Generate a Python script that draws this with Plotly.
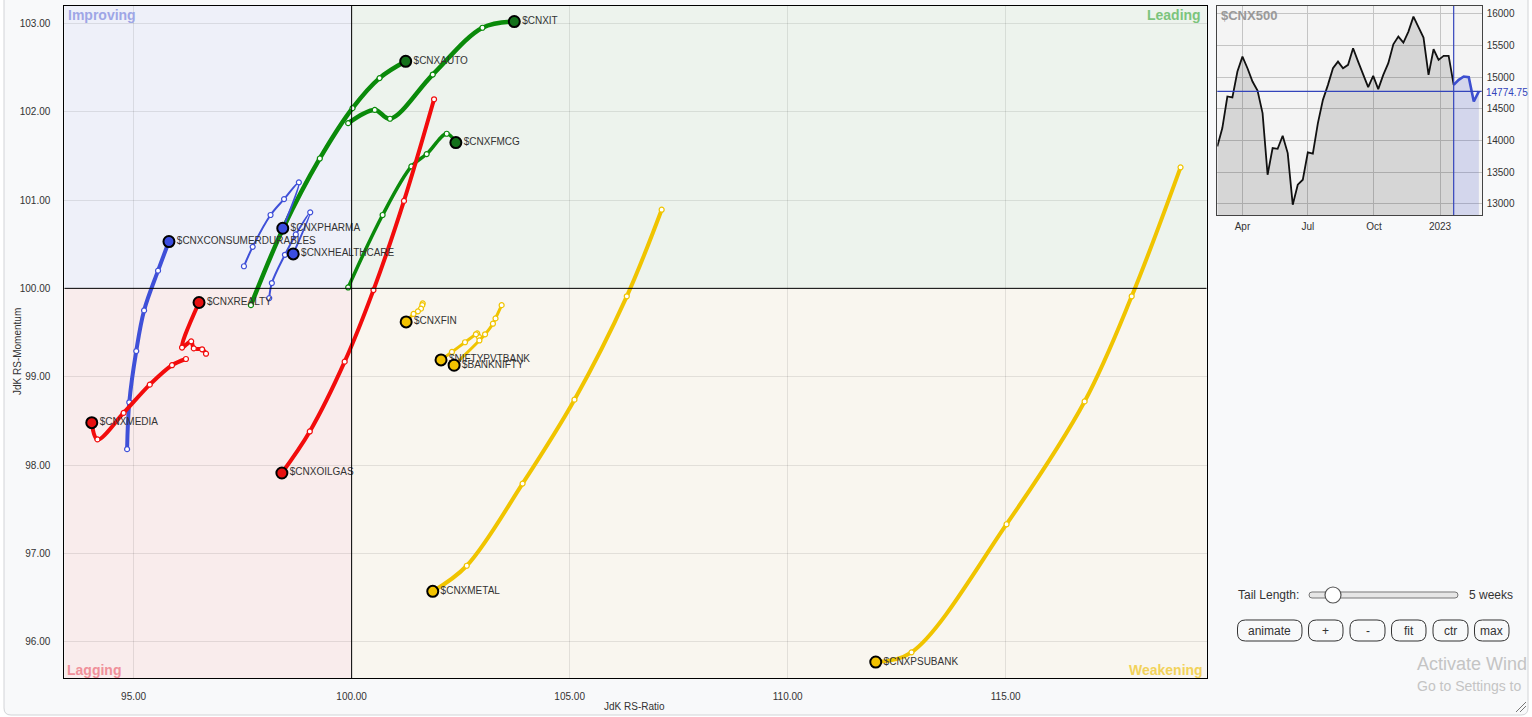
import plotly.graph_objects as go
import pandas as pd

W, H = 1532, 717

# ---------------- RRG data (JdK RS-Ratio, JdK RS-Momentum), tail -> head ----------------
it_x = [99.92, 100.53, 100.88, 101.86, 103.00, 103.73]
it_y = [101.87, 102.02, 101.92, 102.42, 102.95, 103.02]
auto_x = [97.69, 98.44, 99.27, 100.02, 100.64, 101.24]
auto_y = [99.81, 100.69, 101.47, 102.04, 102.38, 102.57]
fmcg_x = [99.92, 100.71, 101.37, 101.72, 102.18, 102.39]
fmcg_y = [100.01, 100.83, 101.38, 101.52, 101.75, 101.65]
pharma_x = [97.53, 97.73, 98.14, 98.45, 98.79, 98.42]
pharma_y = [100.25, 100.47, 100.83, 101.01, 101.20, 100.68]
health_x = [98.11, 98.17, 98.47, 98.72, 99.05, 98.66]
health_y = [99.89, 100.06, 100.38, 100.61, 100.86, 100.39]
cdur_x = [94.85, 94.90, 95.06, 95.24, 95.56, 95.81]
cdur_y = [98.18, 98.71, 99.29, 99.75, 100.20, 100.53]
realty_x = [96.66, 96.57, 96.38, 96.32, 96.11, 96.50]
realty_y = [99.26, 99.31, 99.32, 99.40, 99.33, 99.84]
media_x = [96.20, 95.88, 95.37, 94.77, 94.17, 94.04]
media_y = [99.20, 99.13, 98.91, 98.59, 98.29, 98.48]
oil_x = [101.89, 101.20, 100.50, 99.84, 99.04, 98.40]
oil_y = [102.14, 100.99, 99.98, 99.17, 98.38, 97.91]
fin_x = [101.63, 101.62, 101.59, 101.52, 101.42, 101.25]
fin_y = [99.83, 99.81, 99.77, 99.74, 99.71, 99.62]
pvt_x = [102.92, 102.88, 102.85, 102.60, 102.30, 102.05]
pvt_y = [99.45, 99.49, 99.48, 99.39, 99.28, 99.19]
bank_x = [103.44, 103.30, 103.24, 103.06, 102.93, 102.35]
bank_y = [99.81, 99.66, 99.60, 99.48, 99.41, 99.13]
metal_x = [107.11, 106.31, 105.11, 103.92, 102.64, 101.86]
metal_y = [100.89, 99.91, 98.74, 97.79, 96.86, 96.57]
psu_x = [119.01, 117.89, 116.81, 115.02, 112.84, 112.02]
psu_y = [101.37, 99.91, 98.72, 97.33, 95.88, 95.77]

series_names = ["$CNXIT", "$CNXAUTO", "$CNXFMCG", "$CNXPHARMA", "$CNXHEALTHCARE",
                "$CNXCONSUMERDURABLES", "$CNXREALTY", "$CNXMEDIA", "$CNXOILGAS",
                "$CNXFIN", "$NIFTYPVTBANK", "$BANKNIFTY", "$CNXMETAL", "$CNXPSUBANK"]
series_x = [it_x, auto_x, fmcg_x, pharma_x, health_x, cdur_x, realty_x, media_x, oil_x,
            fin_x, pvt_x, bank_x, metal_x, psu_x]
series_y = [it_y, auto_y, fmcg_y, pharma_y, health_y, cdur_y, realty_y, media_y, oil_y,
            fin_y, pvt_y, bank_y, metal_y, psu_y]

# ---------------- $CNX500 weekly close (inset) ----------------
cnx500_values = [13905, 14195, 14695, 14680, 15090, 15326, 15142, 14932, 14789, 14432,
                 13458, 13879, 13868, 14074, 13800, 12984, 13300, 13379, 13811, 13790,
                 14274, 14642, 14879, 15142, 15247, 15142, 15195, 15458, 15247, 15037,
                 14842, 15021, 14811, 15037, 15221, 15521, 15642, 15547, 15721, 15958,
                 15800, 15626, 15037, 15442, 15274, 15337, 15337, 14879, 14958, 15011,
                 15000, 14616, 14774.75]
cnx500_dates = pd.date_range("2022-02-25", periods=len(cnx500_values), freq="7D")
cnx500_ticks = [13000, 13500, 14000, 14500, 15000, 15500, 16000]
tail_weeks = 5
last_value = 14774.75

# ---------------- styles ----------------
GREEN, GREEN_H = "#0a8a0a", "#13701a"
RED, RED_H = "#f20c0c", "#e81010"
BLUE, BLUE_H = "#3f50d8", "#3b4de0"
YEL, YEL_H = "#f0c400", "#f2c200"
style = {
    "$CNXIT": (GREEN, GREEN_H, 4.5), "$CNXAUTO": (GREEN, GREEN_H, 4.5),
    "$CNXFMCG": (GREEN, GREEN_H, 3.5), "$CNXPHARMA": (BLUE, BLUE_H, 2),
    "$CNXHEALTHCARE": (BLUE, BLUE_H, 2), "$CNXCONSUMERDURABLES": (BLUE, BLUE_H, 4),
    "$CNXREALTY": (RED, RED_H, 4), "$CNXMEDIA": (RED, RED_H, 4),
    "$CNXOILGAS": (RED, RED_H, 4), "$CNXFIN": (YEL, YEL_H, 3),
    "$NIFTYPVTBANK": (YEL, YEL_H, 3), "$BANKNIFTY": (YEL, YEL_H, 3),
    "$CNXMETAL": (YEL, YEL_H, 4), "$CNXPSUBANK": (YEL, YEL_H, 4),
}

XR = [93.41, 119.61]
YR = [95.586, 103.196]


def px(x):
    return x / W


def py(y):
    return 1 - y / H


def rrect(x0, y0, x1, y1, r):
    P = lambda x, y: f"{px(x):.6f},{py(y):.6f}"
    return (f"M {P(x0 + r, y0)} L {P(x1 - r, y0)} Q {P(x1, y0)} {P(x1, y0 + r)} "
            f"L {P(x1, y1 - r)} Q {P(x1, y1)} {P(x1 - r, y1)} L {P(x0 + r, y1)} "
            f"Q {P(x0, y1)} {P(x0, y1 - r)} L {P(x0, y0 + r)} Q {P(x0, y0)} {P(x0 + r, y0)} Z")


fig = go.Figure()

# tails
for name, xs, ys in zip(series_names, series_x, series_y):
    col, _, lw = style[name]
    fig.add_trace(go.Scatter(
        x=xs, y=ys, mode="lines", line=dict(color=col, width=lw, shape="spline", smoothing=1.0),
        hoverinfo="skip", xaxis="x", yaxis="y"))
    fig.add_trace(go.Scatter(
        x=xs[:-1], y=ys[:-1], mode="markers",
        marker=dict(size=5, color="white", line=dict(color=col, width=1.2)),
        hoverinfo="skip", xaxis="x", yaxis="y"))
# heads
for name, xs, ys in zip(series_names, series_x, series_y):
    col, hcol, lw = style[name]
    fig.add_trace(go.Scatter(
        x=[xs[-1]], y=[ys[-1]], mode="markers+text", text=[name], textposition="middle right",
        textfont=dict(family="Liberation Sans, Arial, sans-serif", size=10, color="#333"),
        marker=dict(size=11, color=hcol, line=dict(color="black", width=2)),
        xaxis="x", yaxis="y"))

# inset: $CNX500
split = len(cnx500_values) - 1 - tail_weeks
fig.add_trace(go.Scatter(
    x=cnx500_dates[:split + 1], y=cnx500_values[:split + 1], mode="lines",
    line=dict(color="#111", width=1.8), fill="tozeroy", fillcolor="rgba(0,0,0,0.12)",
    xaxis="x2", yaxis="y2", hoverinfo="skip"))
fig.add_trace(go.Scatter(
    x=cnx500_dates[split:], y=cnx500_values[split:], mode="lines",
    line=dict(color="#3d4fd0", width=2.6), fill="tozeroy", fillcolor="rgba(60,80,200,0.18)",
    xaxis="x2", yaxis="y2", hoverinfo="skip"))

shapes = []
# card
shapes.append(dict(type="path", path=rrect(4, -12, 1528, 715, 7), xref="paper", yref="paper",
                   fillcolor="#f8f9fa", line=dict(color="#d2d4d7", width=1), layer="below"))
# quadrants
quad = [
    (XR[0], 100, 100, YR[1], "#eef0f9"),
    (100, XR[1], 100, YR[1], "#edf3ed"),
    (XR[0], 100, YR[0], 100, "#f9ecec"),
    (100, XR[1], YR[0], 100, "#f9f6ef"),
]
for x0, x1, y0, y1, c in quad:
    shapes.append(dict(type="rect", xref="x", yref="y", x0=x0, x1=x1, y0=y0, y1=y1,
                       fillcolor=c, line=dict(width=0), layer="below"))
shapes.append(dict(type="line", xref="x", yref="y", x0=100, x1=100, y0=YR[0], y1=YR[1],
                   line=dict(color="black", width=1)))
shapes.append(dict(type="line", xref="x", yref="y", x0=XR[0], x1=XR[1], y0=100, y1=100,
                   line=dict(color="black", width=1)))
# inset background
inset_x = [px(1217.3), px(1481.7)]
inset_y = [py(215), py(6)]
shapes.append(dict(type="rect", xref="paper", yref="paper", x0=inset_x[0], x1=inset_x[1],
                   y0=inset_y[0], y1=inset_y[1], fillcolor="#f4f4f4", line=dict(width=0), layer="below"))
# inset current-value line and tail start line
shapes.append(dict(type="line", xref="x2 domain", yref="y2", x0=0, x1=1, y0=last_value, y1=last_value,
                   line=dict(color="#3344bb", width=1.2)))
shapes.append(dict(type="line", xref="x2", yref="y2 domain", x0=cnx500_dates[split], x1=cnx500_dates[split],
                   y0=0, y1=1, line=dict(color="#3344bb", width=1.2)))

# controls
shapes.append(dict(type="path", path=rrect(1309, 592, 1458, 598, 3), xref="paper", yref="paper",
                   fillcolor="#e6e6e6", line=dict(color="#777", width=1)))
shapes.append(dict(type="circle", xref="paper", yref="paper", x0=px(1325), x1=px(1341),
                   y0=py(603), y1=py(587), fillcolor="white", line=dict(color="#555", width=1.2)))
buttons = [("animate", 1237.5, 1302), ("+", 1308.5, 1343), ("-", 1350, 1385),
           ("fit", 1391.5, 1426), ("ctr", 1433, 1468), ("max", 1474.5, 1509)]
for lbl, bx0, bx1 in buttons:
    shapes.append(dict(type="path", path=rrect(bx0, 620, bx1, 641, 8), xref="paper", yref="paper",
                       fillcolor="rgba(0,0,0,0)", line=dict(color="#333", width=1)))
# resize grip
shapes.append(dict(type="line", xref="paper", yref="paper", x0=px(1516), y0=py(712), x1=px(1526), y1=py(702),
                   line=dict(color="#777", width=1)))
shapes.append(dict(type="line", xref="paper", yref="paper", x0=px(1520), y0=py(712), x1=px(1526), y1=py(706),
                   line=dict(color="#777", width=1)))

FONT = "Liberation Sans, Arial, sans-serif"
ann = []


def text(x, y, s, size=10, color="#333", xanchor="left", bold=False, angle=0, yanchor="middle"):
    ann.append(dict(x=px(x), y=py(y), xref="paper", yref="paper", text=f"<b>{s}</b>" if bold else s,
                    showarrow=False, xanchor=xanchor, yanchor=yanchor, textangle=angle,
                    font=dict(family=FONT, size=size, color=color)))


text(66, 15, "Improving", 14, "#9ea6e6", bold=True)
text(1203, 15, "Leading", 14, "#7cc47c", xanchor="right", bold=True)
text(65, 670, "Lagging", 14, "#f0909a", bold=True)
text(1205, 670, "Weakening", 14, "#f2d25a", xanchor="right", bold=True)
text(634, 706, "JdK RS-Ratio", 10, "#333", xanchor="center")
text(18, 352, "JdK RS-Momentum", 10, "#333", xanchor="center", angle=-90)
text(1219, 15, "$CNX500", 13, "#999", bold=True)
text(1484, 92, f"{last_value:.2f}", 10, "#3344bb")
text(1236, 595, "Tail Length:", 12, "#333")
text(1467, 595, f"{tail_weeks} weeks", 12, "#333")
for lbl, bx0, bx1 in buttons:
    text((bx0 + bx1) / 2, 631, lbl, 12, "#333", xanchor="center")
text(1415, 664, "Activate Wind", 18, "#c4c4c4")
text(1415, 686, "Go to Settings to", 14, "#c4c4c4")

fig.update_layout(
    width=W, height=H, margin=dict(l=0, r=0, t=0, b=0),
    paper_bgcolor="white", plot_bgcolor="rgba(0,0,0,0)", showlegend=False,
    shapes=shapes, annotations=ann,
    font=dict(family=FONT, size=10, color="#333"),
    xaxis=dict(domain=[px(64.3), px(1206.7)], range=XR, tickvals=[95, 100, 105, 110, 115],
               ticktext=["95.00", "100.00", "105.00", "110.00", "115.00"],
               showgrid=True, gridcolor="rgba(0,0,0,0.09)", zeroline=False,
               showline=True, linecolor="black", linewidth=1, mirror=True,
               ticks="outside", ticklen=9, tickcolor="rgba(0,0,0,0)",
               tickfont=dict(size=10, color="#333"), fixedrange=True),
    yaxis=dict(domain=[py(678.3), py(6)], range=YR, tickvals=[96, 97, 98, 99, 100, 101, 102, 103],
               ticktext=["96.00", "97.00", "98.00", "99.00", "100.00", "101.00", "102.00", "103.00"],
               showgrid=True, gridcolor="rgba(0,0,0,0.09)", zeroline=False,
               showline=True, linecolor="black", linewidth=1, mirror=True,
               ticks="outside", ticklen=11, tickcolor="rgba(0,0,0,0)",
               tickfont=dict(size=10, color="#333"), fixedrange=True),
    xaxis2=dict(domain=inset_x, anchor="y2", type="date", range=["2022-02-25", "2023-02-28"],
                tickvals=["2022-04-01", "2022-07-01", "2022-10-01", "2023-01-01"],
                ticktext=["Apr", "Jul", "Oct", "2023"], showgrid=True, gridcolor="#c4c4c4",
                showline=True, linecolor="#444", mirror=True, zeroline=False,
                ticks="outside", ticklen=2, tickcolor="rgba(0,0,0,0)",
                tickfont=dict(size=10, color="#333"), fixedrange=True),
    yaxis2=dict(domain=inset_y, anchor="x2", side="right", range=[12821, 16126],
                tickvals=cnx500_ticks, ticktext=[str(t) for t in cnx500_ticks],
                showgrid=True, gridcolor="#c4c4c4", showline=True, linecolor="#444", mirror=True,
                zeroline=False, ticks="outside", ticklen=2, tickcolor="rgba(0,0,0,0)",
                tickfont=dict(size=10, color="#333"), fixedrange=True),
)

fig.write_html("out.html", config={"displayModeBar": False},
               post_script="document.body.style.margin='0';document.body.style.overflow='hidden';")
